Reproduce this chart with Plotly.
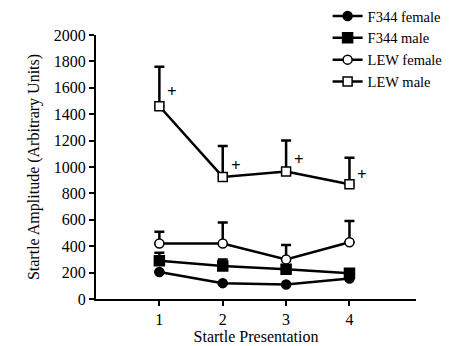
import plotly.graph_objects as go

presentation = [1, 2, 3, 4]
f344_female = [205, 120, 110, 155]
f344_female_err = [0, 0, 0, 0]
f344_male = [290, 250, 225, 195]
f344_male_err = [60, 50, 15, 10]
lew_female = [420, 420, 300, 430]
lew_female_err = [90, 160, 110, 160]
lew_male = [1460, 925, 965, 870]
lew_male_err = [300, 235, 235, 200]
series_names = ["F344 female", "F344 male", "LEW female", "LEW male"]
symbols = ["circle", "square", "circle", "square"]
fills = ["black", "black", "white", "white"]
sizes = [9, 10, 9, 9]

serif = "Liberation Serif, Times New Roman, DejaVu Serif, serif"

fig = go.Figure()
data = [(f344_female, f344_female_err), (f344_male, f344_male_err),
        (lew_female, lew_female_err), (lew_male, lew_male_err)]
for (vals, err), name, sym, fc, sz in zip(data, series_names, symbols, fills, sizes):
    fig.add_trace(go.Scatter(
        x=presentation, y=vals, name=name, mode="lines+markers",
        line=dict(color="black", width=2.5),
        marker=dict(symbol=sym, size=sz, color=fc,
                    line=dict(color="black", width=1.5)),
        error_y=dict(type="data", array=err, arrayminus=[0]*len(err), symmetric=False,
                     color="black", thickness=2.5, width=5, visible=True),
    ))

for x, v, e in zip(presentation, lew_male, lew_male_err):
    fig.add_annotation(x=x, y=v + e * 0.38, text="<b>+</b>", showarrow=False,
                       xshift=13, font=dict(family=serif, size=17, color="black"))

fig.update_layout(
    width=455, height=346,
    margin=dict(l=96, r=39, t=35, b=47, autoexpand=False),
    plot_bgcolor="white", paper_bgcolor="white",
    font=dict(family=serif, size=15, color="black"),
    legend=dict(xref="container", yref="container", x=0.72, y=1.005,
                xanchor="left", yanchor="top",
                bgcolor="rgba(0,0,0,0)", font=dict(family=serif, size=14.5), tracegroupgap=0,
                itemwidth=30),
    showlegend=True,
)
fig.update_xaxes(range=[0, 5.05], tickvals=presentation, showline=True, linecolor="black",
                 linewidth=2, ticks="outside", ticklen=5, tickwidth=2, tickcolor="black",
                 showgrid=False, zeroline=False, tickfont=dict(family=serif, size=16),
                 title=dict(text="Startle Presentation", standoff=4, font=dict(family=serif, size=16)))
fig.update_yaxes(range=[0, 2000], dtick=200, showline=True, linecolor="black",
                 linewidth=2, ticks="outside", ticklen=5, tickwidth=2, tickcolor="black",
                 showgrid=False, zeroline=False, tickfont=dict(family=serif, size=16),
                 title=dict(text="Startle Amplitude (Arbitrary Units)", standoff=10, font=dict(family=serif, size=16)))
fig.write_html("out.html")
